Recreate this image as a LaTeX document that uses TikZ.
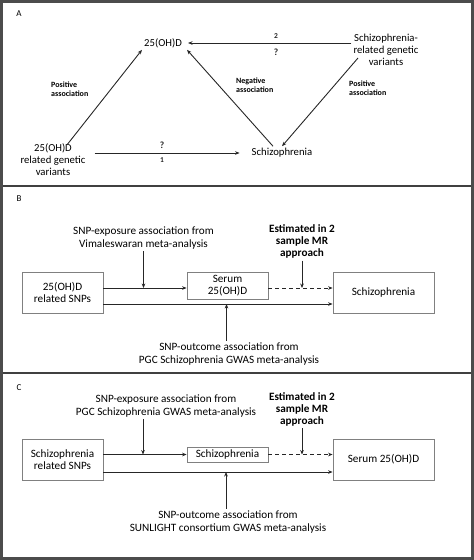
\documentclass[tikz,border=0pt]{standalone}
\usepackage{fontspec}
\setmainfont{Carlito}
\usetikzlibrary{arrows.meta}

\begin{document}
\begin{tikzpicture}[x=1pt, y=-1pt,
    txt/.style={font=\fontsize{11.2}{12.5}\selectfont, align=center, inner sep=2pt},
    txtA/.style={font=\fontsize{10.7}{12}\selectfont, align=center, inner sep=2pt},
    est/.style={font=\fontsize{11.2}{12}\selectfont\bfseries, align=center, inner sep=2pt},
    note/.style={font=\fontsize{8}{9}\selectfont\bfseries, align=left, anchor=west, inner sep=0pt},
    qmark/.style={font=\fontsize{9.5}{10}\selectfont\bfseries, inner sep=0pt},
    num/.style={font=\fontsize{7.5}{8}\selectfont\bfseries, inner sep=0pt},
    panel/.style={font=\fontsize{9}{9}\selectfont, inner sep=0pt},
    box/.style={draw=black!50, line width=0.8pt, inner sep=0pt, align=center,
        font=\fontsize{11.2}{12}\selectfont},
    arr/.style={-{Stealth[length=4.5pt,width=3.6pt]}, line width=0.9pt, black!85},
    ]
    \useasboundingbox (0,0) rectangle (474,560);
    \draw[line width=3pt, black!70] (1.5,1.5) rectangle (472.5,558.5);
    \draw[line width=2pt, black!75] (3,186) -- (471,186);
    \draw[line width=2pt, black!75] (3,373) -- (471,373);

    % panel A
    \node[panel] (labA) at (19,14) {A};
    \node[txtA] (vitA) at (163,43) {25(OH)D};
    \node[txtA] (sczgenA) at (386,50) {Schizophrenia-\\related genetic\\variants};
    \node[txtA] (vitgenA) at (53,160) {25(OH)D\\related genetic\\variants};
    \node[txtA] (sczA) at (282,153) {Schizophrenia};
    \draw[arr, shorten >=4pt] (sczgenA.west |- vitA) -- (vitA.east)
        node[num, pos=0.45, above=4pt] {2}
        node[qmark, pos=0.45, below=5pt] {?};
    \draw[arr, shorten <=7pt, shorten >=10pt] (vitgenA.east |- sczA.west) -- (sczA.west)
        node[qmark, pos=0.46, above=4pt] {?}
        node[num, pos=0.46, below=4pt] {1};
    \draw[arr] ([shift={(14,3)}]vitgenA.north) -- (vitA.south west);
    \draw[arr, {Stealth[length=4.5pt,width=3.6pt]}-] ([xshift=3]vitA.south east) -- ([xshift=-9]sczA.north);
    \draw[arr] ([shift={(-28,8)}]sczgenA.center) -- (sczA.north);
    \node[note] (posA) at (51,89) {Positive\\association};
    \node[note] (negA) at (236,85.5) {Negative\\association};
    \node[note] (pos2A) at (349,88) {Positive\\association};

    % panel B
    \node[panel] (labB) at (19,199) {B};
    \node[box, minimum width=81, minimum height=41] (snpB) at (62.5,292.5) {25(OH)D\\related SNPs};
    \node[box, minimum width=81, minimum height=27] (serB) at (227.5,285.5) {Serum\\25(OH)D};
    \node[box, minimum width=101, minimum height=41] (sczB) at (383.5,292.5) {Schizophrenia};
    \coordinate (inB) at ([yshift=-2.5]serB.west);
    \coordinate (lowB) at ([yshift=-11.5]snpB.east);
    \draw[arr] (snpB.east |- inB) -- (inB);
    \draw[arr, dash pattern=on 4pt off 3pt] ([yshift=-2.5]serB.east) -- (sczB.west |- inB);
    \draw[arr] (lowB) -- (sczB.west |- lowB);
    \node[txt] (expB) at (143.5,238) {SNP-exposure association from\\Vimaleswaran meta-analysis};
    \draw[arr] (expB.south) -- (expB.south |- inB);
    \node[est] (estB) at (302,241.5) {Estimated in 2\\sample MR\\approach};
    \draw[arr] (estB.south) -- (estB.south |- inB);
    \node[txt] (outB) at (229,354) {SNP-outcome association from\\PGC Schizophrenia GWAS meta-analysis};
    \coordinate (upB) at ([xshift=-2.5]outB.north);
    \draw[arr] (upB) -- (upB |- lowB);

    % panel C
    \node[panel] (labC) at (19,388) {C};
    \node[box, minimum width=81, minimum height=41] (snpC) at (62.5,459.5) {Schizophrenia\\related SNPs};
    \node[box, minimum width=81, minimum height=15] (sczC) at (227.5,454.5) {Schizophrenia};
    \node[box, minimum width=101, minimum height=41] (serC) at (383.5,459.5) {Serum 25(OH)D};
    \coordinate (inC) at (sczC.west);
    \coordinate (lowC) at ([yshift=-12.5]snpC.east);
    \draw[arr] (snpC.east |- inC) -- (inC);
    \draw[arr, dash pattern=on 4pt off 3pt] (sczC.east) -- (serC.west |- inC);
    \draw[arr] (lowC) -- (serC.west |- lowC);
    \node[txt] (expC) at (166,406) {SNP-exposure association from\\PGC Schizophrenia GWAS meta-analysis};
    \coordinate (dnC) at ([xshift=-23]expC.south);
    \draw[arr] (dnC) -- (dnC |- inC);
    \node[est] (estC) at (302,409) {Estimated in 2\\sample MR\\approach};
    \draw[arr] (estC.south) -- (estC.south |- inC);
    \node[txt] (outC) at (228,522) {SNP-outcome association from\\SUNLIGHT consortium GWAS meta-analysis};
    \coordinate (upC) at ([xshift=-2]outC.north);
    \draw[arr] (upC) -- (upC |- lowC);
\end{tikzpicture}
\end{document}
